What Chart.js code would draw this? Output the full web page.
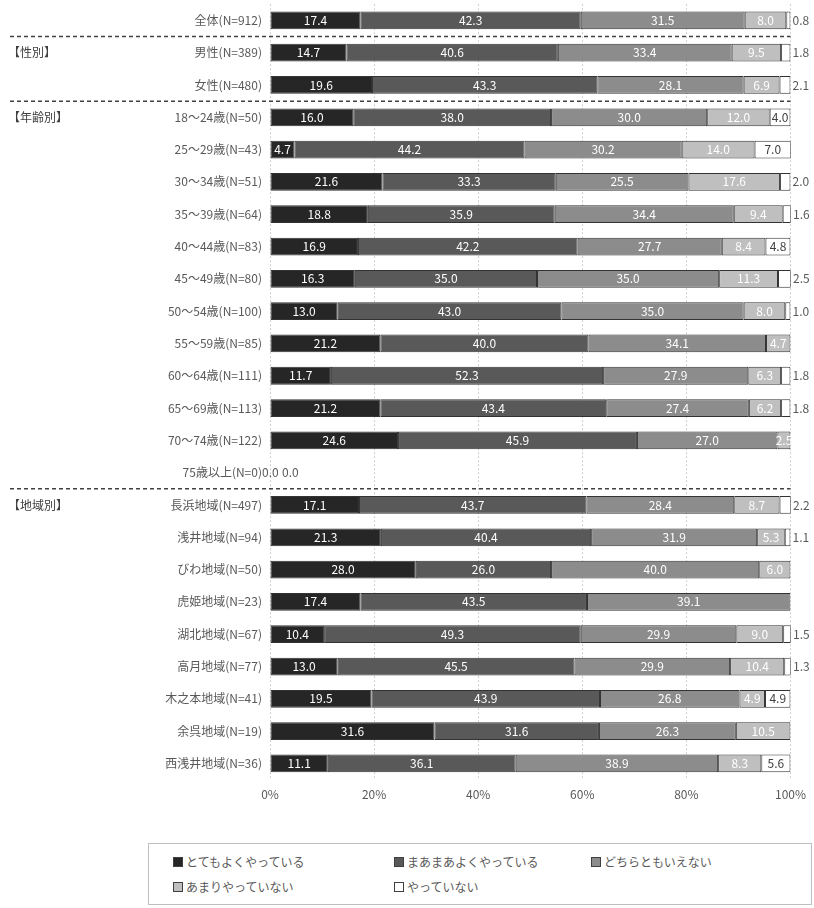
<!DOCTYPE html>
<html>
<head>
<meta charset="utf-8">
<script src="https://cdn.jsdelivr.net/npm/chart.js@4"></script>
<style>
  body { margin: 0; background: #fff; font-family: "Noto Sans CJK JP", sans-serif; overflow: hidden; }
  #wrap { position: absolute; left: 0; top: -11px; width: 814px; height: 831px; }
  #legend {
    position: absolute; left: 148px; top: 843px; width: 664px; height: 62px;
    border: 1px solid #bfbfbf; box-sizing: border-box;
    font-size: 12px; color: #595959; padding: 5px 0 0 24px;
  }
  .row { display: flex; height: 25px; align-items: center; }
  .item { display: flex; align-items: center; }
  .sw { width: 8px; height: 8px; border: 1px solid #404040; margin-right: 3px; }
</style>
</head>
<body>
<div id="wrap"><canvas id="chart"></canvas></div>
<div id="legend"></div>
<script>
const categories = [
  "全体(N=912)", "男性(N=389)", "女性(N=480)",
  "18～24歳(N=50)", "25～29歳(N=43)", "30～34歳(N=51)", "35～39歳(N=64)",
  "40～44歳(N=83)", "45～49歳(N=80)", "50～54歳(N=100)", "55～59歳(N=85)",
  "60～64歳(N=111)", "65～69歳(N=113)", "70～74歳(N=122)", "75歳以上(N=0)",
  "長浜地域(N=497)", "浅井地域(N=94)", "びわ地域(N=50)", "虎姫地域(N=23)",
  "湖北地域(N=67)", "高月地域(N=77)", "木之本地域(N=41)", "余呉地域(N=19)", "西浅井地域(N=36)"
];
const seriesNames = ["とてもよくやっている", "まあまあよくやっている", "どちらともいえない", "あまりやっていない", "やっていない"];
const veryWell   = [17.4, 14.7, 19.6, 16.0, 4.7, 21.6, 18.8, 16.9, 16.3, 13.0, 21.2, 11.7, 21.2, 24.6, 0, 17.1, 21.3, 28.0, 17.4, 10.4, 13.0, 19.5, 31.6, 11.1];
const fairlyWell = [42.3, 40.6, 43.3, 38.0, 44.2, 33.3, 35.9, 42.2, 35.0, 43.0, 40.0, 52.3, 43.4, 45.9, 0, 43.7, 40.4, 26.0, 43.5, 49.3, 45.5, 43.9, 31.6, 36.1];
const neither    = [31.5, 33.4, 28.1, 30.0, 30.2, 25.5, 34.4, 27.7, 35.0, 35.0, 34.1, 27.9, 27.4, 27.0, 0, 28.4, 31.9, 40.0, 39.1, 29.9, 29.9, 26.8, 26.3, 38.9];
const notMuch    = [8.0, 9.5, 6.9, 12.0, 14.0, 17.6, 9.4, 8.4, 11.3, 8.0, 4.7, 6.3, 6.2, 2.5, 0, 8.7, 5.3, 6.0, 0, 9.0, 10.4, 4.9, 10.5, 8.3];
const notAtAll   = [0.8, 1.8, 2.1, 4.0, 7.0, 2.0, 1.6, 4.8, 2.5, 1.0, 0, 1.8, 1.8, 0, 0, 2.2, 1.1, 0, 0, 1.5, 1.3, 4.9, 0, 5.6];
const xTicks = [0, 20, 40, 60, 80, 100];

const colors = ["#262626", "#595959", "#8c8c8c", "#bfbfbf", "#ffffff"];
const textColors = ["#fff", "#fff", "#fff", "#fff", "#404040"];
const allSeries = [veryWell, fairlyWell, neither, notMuch, notAtAll];

// group labels and dashed separators (after row index)
const groups = [
  { label: "【性別】", row: 1 },
  { label: "【年齢別】", row: 3 },
  { label: "【地域別】", row: 15 },
];
const separators = [0, 2, 14];

const canvas = document.getElementById("chart");
canvas.width = 814;
canvas.height = 831;

const extras = {
  id: "extras",
  afterDatasetsDraw(chart) {
    const { ctx, chartArea } = chart;
    const y = chart.scales.y;
    const x = chart.scales.x;
    ctx.save();
    // separators
    ctx.strokeStyle = "#404040";
    ctx.lineWidth = 1.5;
    ctx.setLineDash([4, 3]);
    separators.forEach((r) => {
      const yy = (y.getPixelForValue(r) + y.getPixelForValue(r + 1)) / 2;
      ctx.beginPath();
      ctx.moveTo(10, yy);
      ctx.lineTo(chartArea.right, yy);
      ctx.stroke();
    });
    ctx.setLineDash([]);
    // group labels
    ctx.font = "12px 'Noto Sans CJK JP'";
    ctx.fillStyle = "#404040";
    ctx.textAlign = "left";
    ctx.textBaseline = "middle";
    groups.forEach((g) => ctx.fillText(g.label, 8, y.getPixelForValue(g.row)));

    // value labels
    categories.forEach((c, i) => {
      const total = allSeries.reduce((s, a) => s + a[i], 0);
      if (total === 0) {
        // empty row: the zero labels pile up at the axis
        ctx.fillStyle = "#595959";
        ctx.textAlign = "left";
        ctx.fillText("0.0", x.getPixelForValue(0) - 8, y.getPixelForValue(i));
        ctx.fillText("0.0", x.getPixelForValue(0) + 12, y.getPixelForValue(i));
        return;
      }
      allSeries.forEach((a, d) => {
        const v = a[i];
        if (!v) return;
        const bar = chart.getDatasetMeta(d).data[i];
        const left = bar.base, right = bar.x;
        if (d === 4 && v < 4) {
          ctx.fillStyle = "#595959";
          ctx.textAlign = "left";
          ctx.fillText(v.toFixed(1), right + 2, bar.y);
        } else {
          ctx.fillStyle = textColors[d];
          ctx.textAlign = "center";
          ctx.fillText(v.toFixed(1), (left + right) / 2, bar.y);
        }
      });
    });
    ctx.restore();
  },
};

new Chart(canvas, {
  type: "bar",
  data: {
    labels: categories,
    datasets: allSeries.map((data, d) => ({
      label: seriesNames[d],
      data,
      backgroundColor: colors[d],
      borderColor: "#333333",
      borderWidth: 1,
      borderSkipped: false,
      barPercentage: 0.55,
      categoryPercentage: 1,
    })),
  },
  options: {
    indexAxis: "y",
    responsive: false,
    animation: false,
    layout: { padding: { top: 4, right: 22, bottom: 10, left: 0 } },
    scales: {
      x: {
        stacked: true,
        min: 0,
        max: 100,
        afterBuildTicks: (s) => { s.ticks = xTicks.map((v) => ({ value: v })); },
        ticks: { callback: (v) => v + "%", color: "#595959", font: { size: 12, family: "Noto Sans CJK JP" }, padding: 8 },
        grid: { color: "#cfcfcf", drawTicks: false },
        border: { display: false, dash: [2, 2] },
      },
      y: {
        stacked: true,
        afterFit: (s) => { s.width = 270; },
        ticks: { color: "#595959", font: { size: 12, family: "Noto Sans CJK JP" }, padding: 8, autoSkip: false },
        grid: { display: false, drawTicks: false },
        border: { display: false },
      },
    },
    plugins: { legend: { display: false }, tooltip: { enabled: false } },
  },
  plugins: [extras],
});

// legend
const legend = document.getElementById("legend");
const rows = [[0, 1, 2], [3, 4]];
const colWidths = [221, 197, 200];
rows.forEach((r) => {
  const div = document.createElement("div");
  div.className = "row";
  r.forEach((d, k) => {
    const it = document.createElement("div");
    it.className = "item";
    it.style.width = colWidths[k] + "px";
    it.innerHTML = `<span class="sw" style="background:${colors[d]}"></span>${seriesNames[d]}`;
    div.appendChild(it);
  });
  legend.appendChild(div);
});
</script>
</body>
</html>
